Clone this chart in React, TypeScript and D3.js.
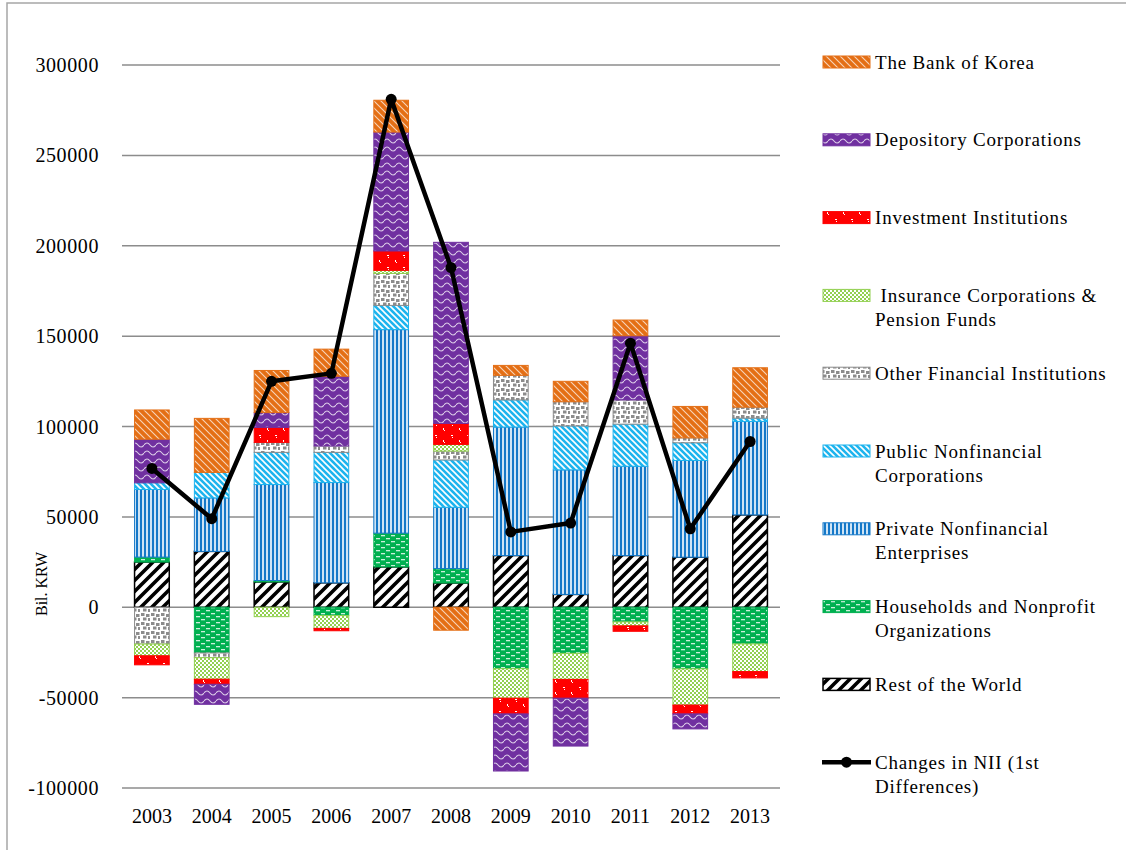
import React from 'react';
import * as d3 from 'd3';

const years = ['2003', '2004', '2005', '2006', '2007', '2008', '2009', '2010', '2011', '2012', '2013'];

// series values, bottom-up stacking order (Bil. KRW)
const restOfWorld = [25000, 30900, 14000, 13500, 22300, 13400, 28600, 7100, 28600, 27700, 51100];
const households = [2750, -25300, 800, -4600, 18700, 8000, -34000, -25500, -8100, -34100, -20300];
const privateNonfin = [37400, 29600, 53100, 55500, 112600, 33900, 71100, 68900, 49400, 53500, 51700];
const publicNonfin = [3700, 14100, 17800, 16700, 13400, 26200, 15000, 24300, 23300, 9800, 1800];
const otherFin = [-20350, -2600, 5500, 3500, 17700, 4900, 13600, 13400, 13400, 2700, 6100];
const insurance = [-6500, -11900, -5200, -7100, 1700, 3700, -16300, -14400, -2200, -20000, -15300];
const investment = [-5000, -2800, 8300, -1300, 10700, 11600, -8700, -10400, -3000, -4900, -3500];
const depository = [24100, -11100, 8200, 38600, 65800, 100200, -31600, -26500, 35500, -8300, 0];
const bankOfKorea = [16200, 29900, 23300, 15000, 17600, -12700, 5500, 11300, 8700, 17400, 21800];
const changesNII = [76800, 49000, 125000, 129400, 281000, 187900, 41700, 46600, 146100, 43400, 91700];

const yTicks = [-100000, -50000, 0, 50000, 100000, 150000, 200000, 250000, 300000];

const seriesKeys = ['row', 'hh', 'priv', 'pub', 'other', 'ins', 'inv', 'dep', 'bok'];
const seriesValues = [restOfWorld, households, privateNonfin, publicNonfin, otherFin, insurance, investment, depository, bankOfKorea];
const seriesStroke: Record<string, string> = {
  row: '#000000', hh: '#00B050', priv: '#1578C8', pub: '#1DB4EE', other: '#8C8C8C',
  ins: '#92D050', inv: '#FF0000', dep: '#7030A0', bok: '#E46F15',
};

const legendItems: { key: string; lines: string[] }[] = [
  { key: 'bok', lines: ['The Bank of Korea'] },
  { key: 'dep', lines: ['Depository Corporations'] },
  { key: 'inv', lines: ['Investment Institutions'] },
  { key: 'ins', lines: [' Insurance Corporations &', 'Pension Funds'] },
  { key: 'other', lines: ['Other Financial Institutions'] },
  { key: 'pub', lines: ['Public Nonfinancial', 'Corporations'] },
  { key: 'priv', lines: ['Private Nonfinancial', 'Enterprises'] },
  { key: 'hh', lines: ['Households and Nonprofit', 'Organizations'] },
  { key: 'row', lines: ['Rest of the World'] },
  { key: 'line', lines: ['Changes in NII (1st', 'Differences)'] },
];

const FONT = '"Liberation Serif", "Times New Roman", serif';

function Patterns() {
  return (
    <defs>
      <pattern id="p-bok" width="7" height="7" patternUnits="userSpaceOnUse">
        <rect width="7" height="7" fill="#E46F15" />
        <path d="M0,0 L7,7 M-3.5,3.5 L3.5,10.5 M3.5,-3.5 L10.5,3.5" stroke="#ffffff" strokeWidth="1.1" strokeOpacity="0.7" />
      </pattern>
      <pattern id="p-dep" width="12" height="8" patternUnits="userSpaceOnUse">
        <rect width="12" height="8" fill="#7030A0" />
        <path d="M0,5 Q3,1 6,5 T12,5" stroke="#ffffff" strokeWidth="1.1" strokeOpacity="0.75" fill="none" />
      </pattern>
      <pattern id="p-inv" width="16" height="12" patternUnits="userSpaceOnUse">
        <rect width="16" height="12" fill="#FF0000" />
        <rect x="3" y="3" width="2" height="1" fill="#ffffff" />
        <rect x="4" y="5" width="1" height="1" fill="#ffffff" />
        <rect x="11" y="8" width="1" height="2" fill="#ffffff" />
        <rect x="12" y="10" width="1" height="1" fill="#ffffff" />
      </pattern>
      <pattern id="p-ins" width="4" height="4" patternUnits="userSpaceOnUse">
        <rect width="4" height="4" fill="#92D050" />
        <rect x="0" y="0" width="2" height="2" fill="#ffffff" />
        <rect x="2" y="2" width="2" height="2" fill="#ffffff" />
      </pattern>
      <pattern id="p-other" width="10" height="9" patternUnits="userSpaceOnUse">
        <rect width="10" height="9" fill="#ffffff" />
        <rect x="1" y="1" width="3.5" height="3" fill="#8C8C8C" />
        <rect x="6" y="2" width="3.5" height="3" fill="#8C8C8C" />
        <rect x="3" y="5.5" width="3.5" height="3" fill="#8C8C8C" />
        <rect x="8" y="6" width="2" height="3" fill="#8C8C8C" />
      </pattern>
      <pattern id="p-pub" width="6" height="6" patternUnits="userSpaceOnUse">
        <rect width="6" height="6" fill="#1DB4EE" />
        <path d="M0,0 L6,6 M-3,3 L3,9 M3,-3 L9,3" stroke="#ffffff" strokeWidth="1.6" />
      </pattern>
      <pattern id="p-priv" width="4" height="4" patternUnits="userSpaceOnUse">
        <rect width="4" height="4" fill="#CFE4F5" />
        <rect x="0" y="0" width="2" height="4" fill="#1578C8" />
      </pattern>
      <pattern id="p-hh" width="10" height="6" patternUnits="userSpaceOnUse">
        <rect width="10" height="6" fill="#00B050" />
        <rect x="1" y="1" width="4" height="1.3" fill="#ffffff" fillOpacity="0.8" />
        <rect x="6" y="4" width="4" height="1.3" fill="#ffffff" fillOpacity="0.8" />
      </pattern>
      <pattern id="p-row" width="11" height="11" patternUnits="userSpaceOnUse">
        <rect width="11" height="11" fill="#ffffff" />
        <path d="M0,11 L11,0 M-5.5,5.5 L5.5,-5.5 M5.5,16.5 L16.5,5.5" stroke="#000000" strokeWidth="3.6" />
      </pattern>
    </defs>
  );
}

export default function App() {
  const W = 1126;
  const H = 850;
  const left = 122;
  const right = 780;

  const y = d3.scaleLinear().domain([-100000, 300000]).range([788, 65]);
  const x = d3.scaleBand<string>().domain(years).range([left, right]).paddingInner(0.42).paddingOuter(0.21);

  const rows = years.map((yr, i) => {
    const r: Record<string, number | string> = { year: yr };
    seriesKeys.forEach((k, j) => { r[k] = seriesValues[j][i]; });
    return r;
  });
  const stacked = d3.stack<any>().keys(seriesKeys).offset(d3.stackOffsetDiverging)(rows);

  const lineGen = d3.line<number>()
    .x((_, i) => (x(years[i]) as number) + x.bandwidth() / 2)
    .y((d) => y(d));

  const legendX = 823;
  const legendTextX = 875;
  const legendY0 = 62;
  const legendStep = 77.8;

  return (
    <svg width={W} height={H} style={{ position: 'absolute', left: 0, top: 0, background: '#fff' }}
      fontFamily={FONT}>
      <Patterns />
      <rect x={7} y={3} width={W + 20} height={H + 20} fill="#ffffff" stroke="#a6a6a6" strokeWidth={1.5} />

      {yTicks.map((t) => (
        <g key={t}>
          <line x1={left} x2={right} y1={y(t)} y2={y(t)} stroke="#8c8c8c" strokeWidth={1.5} />
          <text x={99} y={y(t)} dy="0.35em" textAnchor="end" fontSize={20} letterSpacing={0.6} fill="#000">{t}</text>
        </g>
      ))}

      <text transform={`translate(47,584) rotate(-90)`} textAnchor="middle" fontSize={16} fill="#000">Bil. KRW</text>

      {stacked.map((s) => (
        <g key={s.key}>
          {s.map((d, i) => {
            const y0 = y(d[0]);
            const y1 = y(d[1]);
            const top = Math.min(y0, y1);
            const h = Math.abs(y0 - y1);
            if (h < 0.01) return null;
            return (
              <rect key={i} x={x(years[i])} y={top} width={x.bandwidth()} height={h}
                fill={`url(#p-${s.key})`} stroke={seriesStroke[s.key]}
                strokeWidth={s.key === 'row' ? 1.5 : 1} />
            );
          })}
        </g>
      ))}

      <path d={lineGen(changesNII) || ''} fill="none" stroke="#000" strokeWidth={4.5} strokeLinejoin="round" />
      {changesNII.map((v, i) => (
        <circle key={i} cx={(x(years[i]) as number) + x.bandwidth() / 2} cy={y(v)} r={5.5} fill="#000" />
      ))}

      {years.map((yr) => (
        <text key={yr} x={(x(yr) as number) + x.bandwidth() / 2} y={823} textAnchor="middle" fontSize={20} fill="#000">{yr}</text>
      ))}

      {legendItems.map((it, i) => {
        const cy = legendY0 + i * legendStep;
        return (
          <g key={it.key}>
            {it.key === 'line' ? (
              <g>
                <line x1={legendX - 1} x2={legendX + 48} y1={cy} y2={cy} stroke="#000" strokeWidth={4.5} />
                <circle cx={legendX + 23.5} cy={cy} r={5.5} fill="#000" />
              </g>
            ) : (
              <rect x={legendX} y={cy - 6} width={47} height={12} fill={`url(#p-${it.key})`}
                stroke={seriesStroke[it.key]} strokeWidth={it.key === 'row' ? 1.5 : 1} />
            )}
            {it.lines.map((ln, j) => (
              <text key={j} x={legendTextX} y={cy + j * 24} dy="0.35em" fontSize={19} letterSpacing={0.8}
                fill="#000" style={{ whiteSpace: 'pre' }}>{ln}</text>
            ))}
          </g>
        );
      })}
    </svg>
  );
}
